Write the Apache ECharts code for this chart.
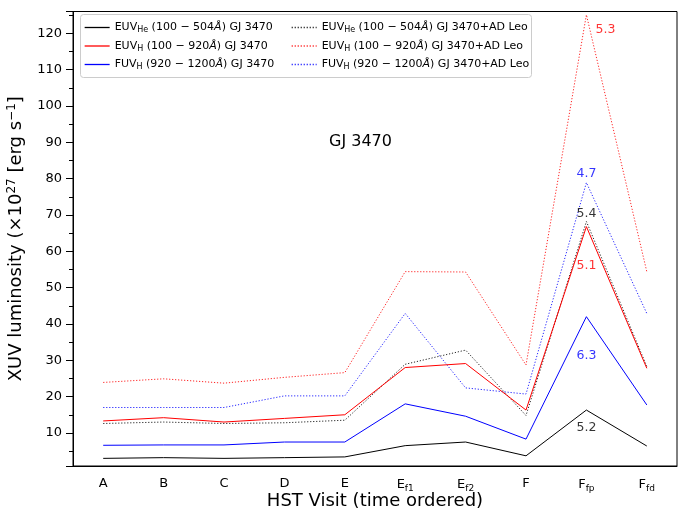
<!DOCTYPE html>
<html>
<head>
<meta charset="utf-8">
<script src="https://cdn.jsdelivr.net/npm/echarts@6/dist/echarts.min.js"></script>
<style>html,body{margin:0;padding:0;background:#fff}#c{width:690px;height:512px}</style>
</head>
<body>
<div id="c"></div>
<script>
const categories = ['A','B','C','D','E','Ef1','Ef2','F','Ffp','Ffd'];
const categoryLabels = ['A','B','C','D','E','E{sub|f1}','E{sub|f2}','F','F{sub|fp}','F{sub|fd}'];

const euvHe = [3.0, 3.2, 3.0, 3.2, 3.4, 6.5, 7.5, 3.7, 16.3, 6.4];
const euvH  = [13.3, 14.2, 13.0, 14.0, 15.0, 28.0, 29.1, 16.3, 66.8, 27.8];
const fuvH  = [6.6, 6.7, 6.7, 7.5, 7.5, 18.0, 14.6, 8.3, 42.0, 17.7];
const euvHeAD = [12.6, 13.0, 12.6, 12.8, 13.5, 28.9, 32.8, 14.8, 68.2, 28.3];
const euvHAD  = [23.9, 24.9, 23.7, 25.3, 26.6, 54.4, 54.3, 28.7, 125.1, 54.4];
const fuvHAD  = [17.0, 17.0, 17.0, 20.2, 20.2, 42.9, 22.4, 20.7, 78.9, 42.9];

const seriesNames = [
  'EUV_He (100-504) GJ 3470',
  'EUV_H (100-920) GJ 3470',
  'FUV_H (920-1200) GJ 3470',
  'EUV_He (100-504) GJ 3470+AD Leo',
  'EUV_H (100-920) GJ 3470+AD Leo',
  'FUV_H (920-1200) GJ 3470+AD Leo'
];
const legendLabels = [
  'EUV{sub|He} (100 − 504{it|Å}) GJ 3470',
  'EUV{sub|H} (100 − 920{it|Å}) GJ 3470',
  'FUV{sub|H} (920 − 1200{it|Å}) GJ 3470',
  'EUV{sub|He} (100 − 504{it|Å}) GJ 3470+AD Leo',
  'EUV{sub|H} (100 − 920{it|Å}) GJ 3470+AD Leo',
  'FUV{sub|H} (920 − 1200{it|Å}) GJ 3470+AD Leo'
];
const seriesData = [euvHe, euvH, fuvH, euvHeAD, euvHAD, fuvHAD];
const seriesColors = ['#000000', '#ff0000', '#0000ff', '#000000', '#ff0000', '#0000ff'];
const seriesDotted = [false, false, false, true, true, true];

// annotations at Ffp
const annoText  = ['5.3', '4.7', '5.4', '5.1', '6.3', '5.2'];
const annoY     = [121.0, 81.3, 70.3, 56.0, 31.2, 11.4];
const annoColor = ['#ff0000', '#0000ff', '#000000', '#ff0000', '#0000ff', '#000000'];
const annoDx    = [19, 0, 0, 0, 0, 0];

const FONT = 'DejaVu Sans';
const chart = echarts.init(document.getElementById('c'), null, {renderer: 'canvas'});

const rich = {
  sub: {fontSize: 8, verticalAlign: 'bottom', padding: [5, 0, 0, 0], fontFamily: FONT, color: '#000'},
  it: {fontSize: 11, fontStyle: 'italic', fontFamily: FONT, color: '#000'}
};

const series = seriesData.map((d, i) => ({
  name: seriesNames[i],
  type: 'line',
  data: d,
  symbol: 'none',
  showSymbol: false,
  animation: false,
  lineStyle: {
    color: seriesColors[i],
    width: 1,
    type: seriesDotted[i] ? [1.2, 1.8] : 'solid',
    opacity: seriesDotted[i] ? 0.85 : 1
  },
  itemStyle: {color: seriesColors[i]},
  z: seriesDotted[i] ? 2 : 3
}));

series.push({
  name: 'annotations',
  type: 'scatter',
  symbolSize: 0,
  animation: false,
  silent: true,
  data: annoText.map((t, i) => ({
    value: ['Ffp', annoY[i]],
    label: {
      show: true, position: 'inside', formatter: t, color: annoColor[i],
      fontSize: 12.5, fontFamily: FONT, offset: [annoDx[i], 0]
    }
  }))
});

function legendFor(idxs, left) {
  return {
    orient: 'vertical',
    left: left, top: 22, padding: 0,
    itemWidth: 25, itemHeight: 12, itemGap: 6.5,
    itemStyle: {opacity: 0, borderWidth: 0},
    lineStyle: {width: 1.3},
    data: idxs.map(i => seriesNames[i]),
    formatter: name => legendLabels[seriesNames.indexOf(name)],
    textStyle: {fontSize: 11, fontFamily: FONT, color: '#000', rich: rich},
    selectedMode: false
  };
}

const option = {
  backgroundColor: '#fff',
  animation: false,
  textStyle: {fontFamily: FONT},
  grid: {left: 73, top: 11.5, width: 604, height: 454.5, show: true, borderColor: '#000', borderWidth: 1,
         containLabel: false, outerBoundsMode: 'none'},
  legend: [legendFor([0,1,2], 84), legendFor([3,4,5], 291)],
  xAxis: {
    type: 'category',
    data: categories,
    boundaryGap: true,
    axisTick: {alignWithLabel: true, interval: 0, length: 7, lineStyle: {color: '#000'}},
    axisLine: {lineStyle: {color: '#000'}},
    axisLabel: {
      interval: 0,
      fontSize: 13, fontFamily: FONT, color: '#000', margin: 11,
      formatter: (v, i) => categoryLabels[categories.indexOf(v)],
      rich: {sub: {fontSize: 9, verticalAlign: 'bottom', padding: [7, 0, 0, 0], fontFamily: FONT, color: '#000'}}
    },
    name: 'HST Visit (time ordered)',
    nameLocation: 'middle',
    nameGap: 26,
    nameMoveOverlap: false,
    nameTextStyle: {fontSize: 18, fontFamily: FONT, color: '#000'}
  },
  yAxis: {
    type: 'value',
    min: 0.9, max: 126,
    splitNumber: 12,
    splitLine: {show: false},
    axisLine: {show: true, lineStyle: {color: '#000'}},
    axisTick: {show: true, length: 7, lineStyle: {color: '#000'}},
    minorTick: {show: true, splitNumber: 2, length: 4, lineStyle: {color: '#000'}},
    axisLabel: {fontSize: 13, fontFamily: FONT, color: '#000', margin: 11, showMinLabel: false, showMaxLabel: false},
    name: 'XUV luminosity (×10{sup|27} [erg s{sup|−1}]',
    nameLocation: 'middle',
    nameGap: 46,
    nameMoveOverlap: false,
    nameRotate: 90,
    nameTextStyle: {
      fontSize: 18, fontFamily: FONT, color: '#000',
      rich: {sup: {fontSize: 12, verticalAlign: 'top', padding: [0, 0, 9, 0], fontFamily: FONT, color: '#000'}}
    }
  },
  graphic: [
    {type: 'rect', left: 80, top: 14, z: 0, shape: {width: 451, height: 63, r: 3},
     style: {fill: 'rgba(255,255,255,0.8)', stroke: '#cccccc', lineWidth: 1}},
    {type: 'text', left: 329, top: 134, style: {text: 'GJ 3470', fontSize: 16, fontFamily: FONT, fill: '#000'}}
  ],
  series: series
};
chart.setOption(option);
</script>
</body>
</html>
